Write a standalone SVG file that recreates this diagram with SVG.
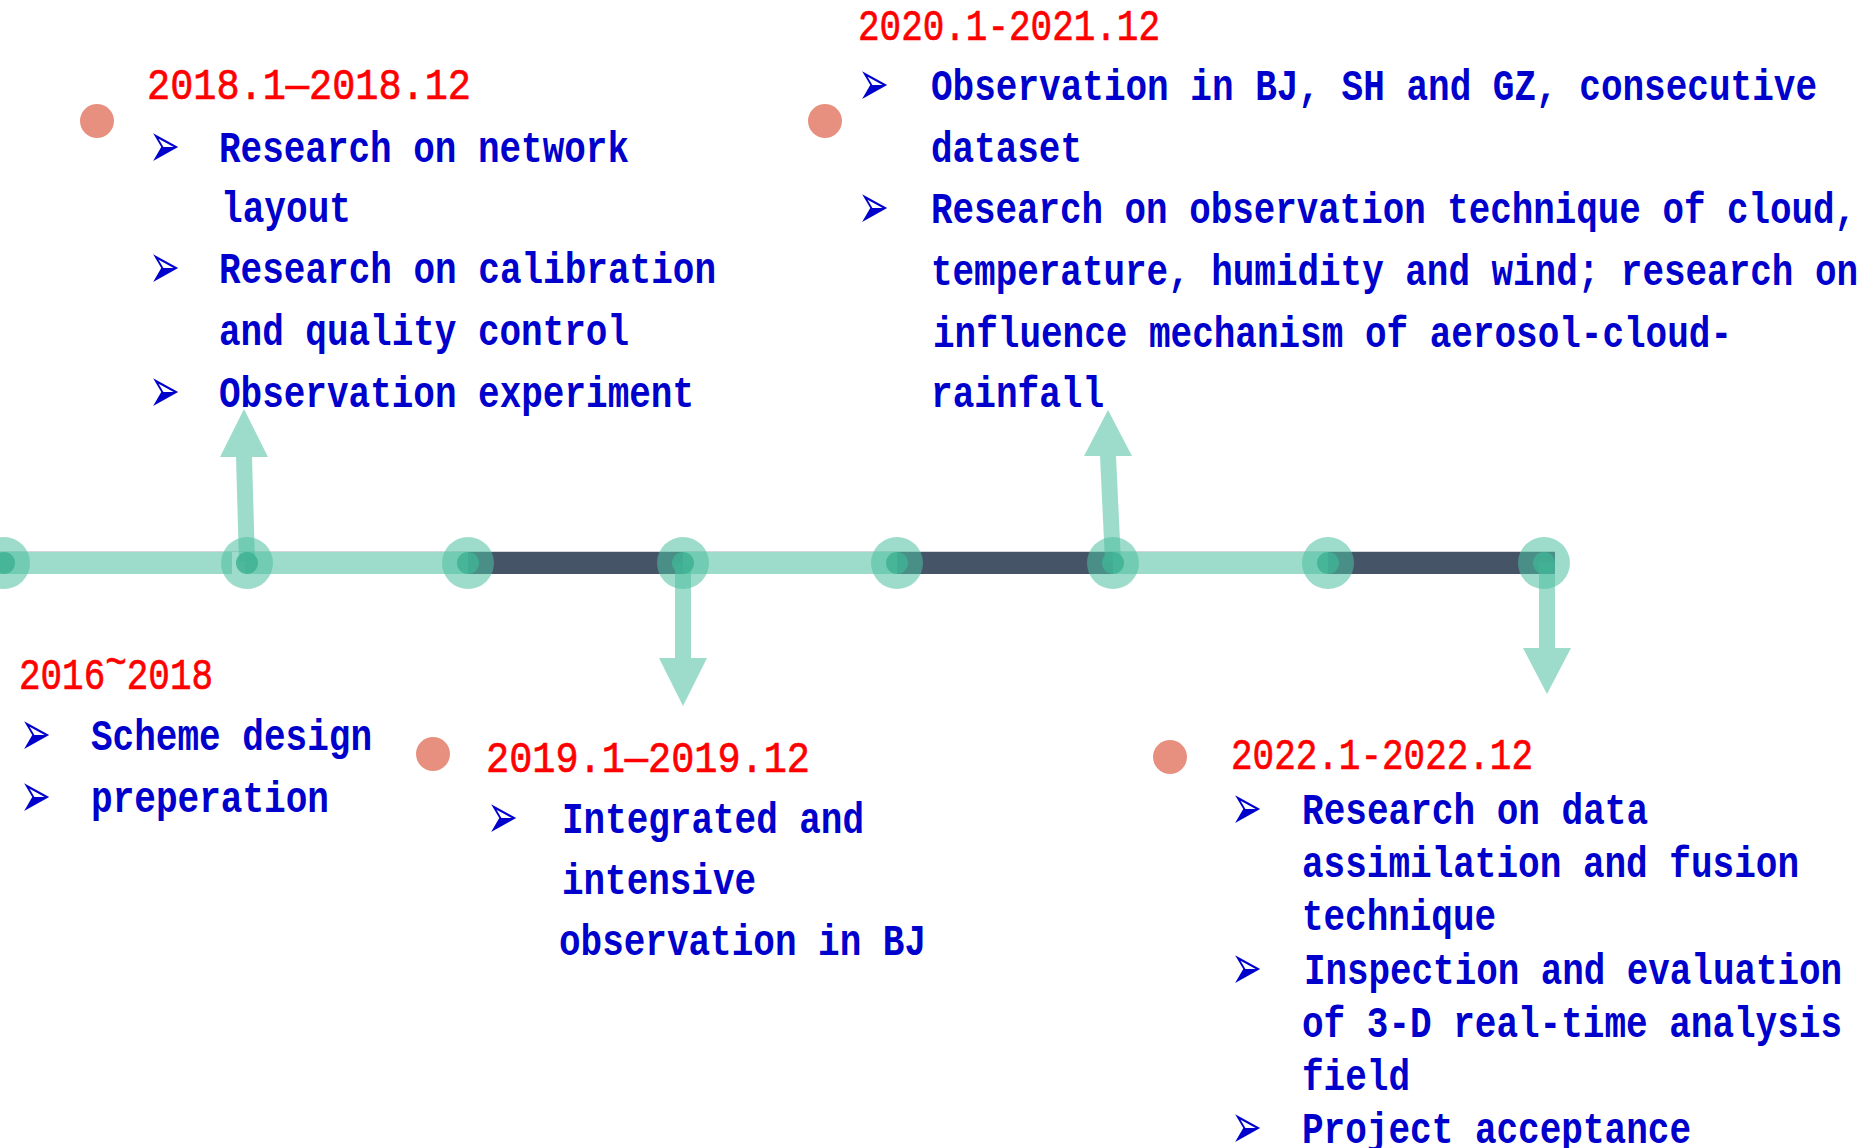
<svg xmlns="http://www.w3.org/2000/svg" width="1876" height="1148" viewBox="0 0 1876 1148">
<style>
.t{font-family:"Liberation Mono","DejaVu Sans Mono",monospace;font-size:44px}
.red{fill:#FF0000;stroke:#FF0000;stroke-width:0.7}
.blue{fill:#0000CC;font-weight:bold}
.bul{font-family:"DejaVu Sans","Noto Sans",sans-serif;font-size:50px;fill:#0000CC}
.dot{fill:#E8907F}
.seg{stroke-width:22;fill:none}
.lt{stroke:#4CC0A0;stroke-opacity:0.55}
.dk{stroke:#465468}
.arr{fill:#4CC0A0;fill-opacity:0.55}
.outer{fill:#4CC0A0;fill-opacity:0.55}
.inner{fill:#3FB293;fill-opacity:0.85}
</style>
<rect width="1876" height="1148" fill="#FFFFFF"/>
<g id="connectors">
  <line x1="0" y1="551.5" x2="1555" y2="551.5" stroke="#D3D7DB" stroke-width="1"/>
  <line class="seg lt" x1="0" y1="563" x2="232" y2="563"/>
  <line class="seg lt" x1="245" y1="563" x2="468" y2="563"/>
  <line class="seg dk" x1="468" y1="563" x2="683" y2="563"/>
  <line class="seg lt" x1="683" y1="563" x2="897" y2="563"/>
  <line class="seg dk" x1="897" y1="563" x2="1113" y2="563"/>
  <line class="seg lt" x1="1113" y1="563" x2="1328" y2="563"/>
  <line class="seg dk" x1="1328" y1="563" x2="1555" y2="563"/>
  <polygon class="arr" points="239,562 255,562 252,457 268,457 244,409 220,457 236,457"/>
  <polygon class="arr" points="675,563 691,563 691,658 707,658 683,706 659,658 675,658"/>
  <polygon class="arr" points="1105,562 1121,562 1116,456 1132,456 1108,410 1084,456 1100,456"/>
  <polygon class="arr" points="1539,563 1555,563 1555,648 1571,648 1547,694 1523,648 1539,648"/>
</g>
<g id="point-1"><circle class="outer" cx="4" cy="563" r="26"/><circle class="inner" cx="4" cy="563" r="11"/></g>
<g id="point-2"><circle class="outer" cx="247" cy="563" r="26"/><circle class="inner" cx="247" cy="563" r="11"/></g>
<g id="point-3"><circle class="outer" cx="468" cy="563" r="26"/><circle class="inner" cx="468" cy="563" r="11"/></g>
<g id="point-4"><circle class="outer" cx="683" cy="563" r="26"/><circle class="inner" cx="683" cy="563" r="11"/></g>
<g id="point-5"><circle class="outer" cx="897" cy="563" r="26"/><circle class="inner" cx="897" cy="563" r="11"/></g>
<g id="point-6"><circle class="outer" cx="1113" cy="563" r="26"/><circle class="inner" cx="1113" cy="563" r="11"/></g>
<g id="point-7"><circle class="outer" cx="1328" cy="563" r="26"/><circle class="inner" cx="1328" cy="563" r="11"/></g>
<g id="point-8"><circle class="outer" cx="1544" cy="563" r="26"/><circle class="inner" cx="1544" cy="563" r="11"/></g>

<g id="block-2016">
  <text class="t red" x="19" y="689" textLength="194" lengthAdjust="spacingAndGlyphs">2016<tspan dy="-13">~</tspan><tspan dy="13">2018</tspan></text>
  <text class="bul" transform="translate(20,755) scale(0.74,1.27)">➢</text>
  <text class="t blue" x="91" y="750" textLength="281" lengthAdjust="spacingAndGlyphs">Scheme design</text>
  <text class="bul" transform="translate(20,817) scale(0.74,1.27)">➢</text>
  <text class="t blue" x="91" y="812" textLength="238" lengthAdjust="spacingAndGlyphs">preperation</text>
</g>

<g id="block-2018">
  <circle class="dot" cx="97" cy="121" r="17"/>
  <text class="t red" x="147" y="99" textLength="324" lengthAdjust="spacingAndGlyphs">2018.1—2018.12</text>
  <text class="bul" transform="translate(149,167) scale(0.74,1.27)">➢</text>
  <text class="t blue" x="219" y="162" textLength="410" lengthAdjust="spacingAndGlyphs">Research on network</text>
  <text class="t blue" x="221" y="222" textLength="130" lengthAdjust="spacingAndGlyphs">layout</text>
  <text class="bul" transform="translate(149,288) scale(0.74,1.27)">➢</text>
  <text class="t blue" x="219" y="283" textLength="497" lengthAdjust="spacingAndGlyphs">Research on calibration</text>
  <text class="t blue" x="219" y="345" textLength="410" lengthAdjust="spacingAndGlyphs">and quality control</text>
  <text class="bul" transform="translate(149,412) scale(0.74,1.27)">➢</text>
  <text class="t blue" x="219" y="407" textLength="475" lengthAdjust="spacingAndGlyphs">Observation experiment</text>
</g>

<g id="block-2019">
  <circle class="dot" cx="433" cy="754" r="17"/>
  <text class="t red" x="486" y="772" textLength="324" lengthAdjust="spacingAndGlyphs">2019.1—2019.12</text>
  <text class="bul" transform="translate(487,838) scale(0.74,1.27)">➢</text>
  <text class="t blue" x="562" y="833" textLength="302" lengthAdjust="spacingAndGlyphs">Integrated and</text>
  <text class="t blue" x="562" y="894" textLength="194" lengthAdjust="spacingAndGlyphs">intensive</text>
  <text class="t blue" x="559" y="955" textLength="367" lengthAdjust="spacingAndGlyphs">observation in BJ</text>
</g>

<g id="block-2020">
  <circle class="dot" cx="825" cy="121" r="17"/>
  <text class="t red" x="858" y="40" textLength="302" lengthAdjust="spacingAndGlyphs">2020.1-2021.12</text>
  <text class="bul" transform="translate(858,105) scale(0.74,1.27)">➢</text>
  <text class="t blue" x="931" y="100" textLength="886" lengthAdjust="spacingAndGlyphs">Observation in BJ, SH and GZ, consecutive</text>
  <text class="t blue" x="931" y="162" textLength="151" lengthAdjust="spacingAndGlyphs">dataset</text>
  <text class="bul" transform="translate(858,228) scale(0.74,1.27)">➢</text>
  <text class="t blue" x="931" y="223" textLength="925" lengthAdjust="spacingAndGlyphs">Research on observation technique of cloud,</text>
  <text class="t blue" x="931" y="285" textLength="927" lengthAdjust="spacingAndGlyphs">temperature, humidity and wind; research on</text>
  <text class="t blue" x="933" y="347" textLength="799" lengthAdjust="spacingAndGlyphs">influence mechanism of aerosol-cloud-</text>
  <text class="t blue" x="931" y="407" textLength="173" lengthAdjust="spacingAndGlyphs">rainfall</text>
</g>

<g id="block-2022">
  <circle class="dot" cx="1170" cy="757" r="17"/>
  <text class="t red" x="1231" y="769" textLength="302" lengthAdjust="spacingAndGlyphs">2022.1-2022.12</text>
  <text class="bul" transform="translate(1231,829) scale(0.74,1.27)">➢</text>
  <text class="t blue" x="1302" y="824" textLength="346" lengthAdjust="spacingAndGlyphs">Research on data</text>
  <text class="t blue" x="1302" y="877" textLength="497" lengthAdjust="spacingAndGlyphs">assimilation and fusion</text>
  <text class="t blue" x="1302" y="930" textLength="194" lengthAdjust="spacingAndGlyphs">technique</text>
  <text class="bul" transform="translate(1231,989) scale(0.74,1.27)">➢</text>
  <text class="t blue" x="1304" y="984" textLength="538" lengthAdjust="spacingAndGlyphs">Inspection and evaluation</text>
  <text class="t blue" x="1302" y="1037" textLength="540" lengthAdjust="spacingAndGlyphs">of 3-D real-time analysis</text>
  <text class="t blue" x="1302" y="1090" textLength="108" lengthAdjust="spacingAndGlyphs">field</text>
  <text class="bul" transform="translate(1231,1148) scale(0.74,1.27)">➢</text>
  <text class="t blue" x="1302" y="1143" textLength="389" lengthAdjust="spacingAndGlyphs">Project acceptance</text>
</g>
</svg>
